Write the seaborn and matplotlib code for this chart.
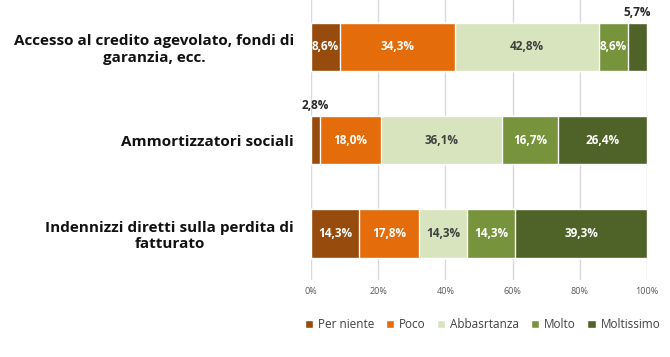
import pandas as pd
import numpy as np
import matplotlib.pyplot as plt
import seaborn as sns

# Data
categories = [
    "Accesso al credito agevolato, fondi di\ngaranzia, ecc.",
    "Ammortizzatori sociali",
    "Indennizzi diretti sulla perdita di\nfatturato",
]
levels = ["Per niente", "Poco", "Abbasrtanza", "Molto", "Moltissimo"]
per_niente = [8.6, 2.8, 14.3]
poco = [34.3, 18.0, 17.8]
abbastanza = [42.8, 36.1, 14.3]
molto = [8.6, 16.7, 14.3]
moltissimo = [5.7, 26.4, 39.3]
colors = ["#974B0C", "#E46C0A", "#D7E4BD", "#77933C", "#4F6228"]
text_colors = ["white", "white", "#404040", "white", "white"]

sns.set_theme(style="whitegrid")
plt.rcParams["font.family"] = ["Open Sans", "DejaVu Sans"]

series = [per_niente, poco, abbastanza, molto, moltissimo]
df = pd.DataFrame({"Categoria": categories})
for name, vals in zip(levels, series):
    df[name] = vals
cum = df[levels].cumsum(axis=1)

fig = plt.figure(figsize=(6.7, 3.57), dpi=100)
ax = fig.add_axes([0.464, 0.216, 0.502, 0.783])

# stacked bars: draw cumulative totals from the widest down
for i in range(len(levels) - 1, -1, -1):
    sns.barplot(data=cum.assign(Categoria=categories), x=levels[i], y="Categoria",
                orient="h", color=colors[i], saturation=1, width=0.52,
                edgecolor="white", linewidth=1, ax=ax, label=levels[i])

# value labels
for r in range(len(categories)):
    left = 0
    for i, name in enumerate(levels):
        v = df.loc[r, name]
        txt = f"{v:.1f}".replace(".", ",") + "%"
        xc = left + v / 2
        if v < 7:
            ax.text(xc, r - 0.30, txt, ha="center", va="bottom", fontsize=8.5,
                    fontweight="bold", color="#262626")
        else:
            ax.text(xc, r, txt, ha="center", va="center", fontsize=8.5,
                    fontweight="bold", color=text_colors[i])
        left += v

ax.set_xlim(0, 100)
ax.set_ylim(2.5, -0.5)
ax.set_xticks(np.arange(0, 101, 20))
ax.set_xticklabels([f"{t}%" for t in range(0, 101, 20)], fontsize=6.5, color="#595959")
ax.tick_params(axis="x", pad=5, length=0)
ax.tick_params(axis="y", length=0, pad=12)
ax.set_yticks(range(len(categories)))
ax.set_yticklabels(categories, fontsize=11, fontweight="bold", color="#111111",
                   multialignment="center")
ax.set_xlabel("")
ax.set_ylabel("")
ax.grid(axis="x", color="#D9D9D9", linewidth=1)
ax.grid(axis="y", visible=False)
for s in ax.spines.values():
    s.set_visible(False)

handles, labels = ax.get_legend_handles_labels()
order = [labels.index(l) for l in levels]
ax.legend([handles[k] for k in order], levels, loc="center", ncol=5,
          bbox_to_anchor=(0.72, 0.09), bbox_transform=fig.transFigure,
          frameon=False, fontsize=8.5, handlelength=0.7, handleheight=0.7,
          handletextpad=0.4, columnspacing=1.0, labelcolor="#404040")

fig.savefig("out.png", dpi=100)
